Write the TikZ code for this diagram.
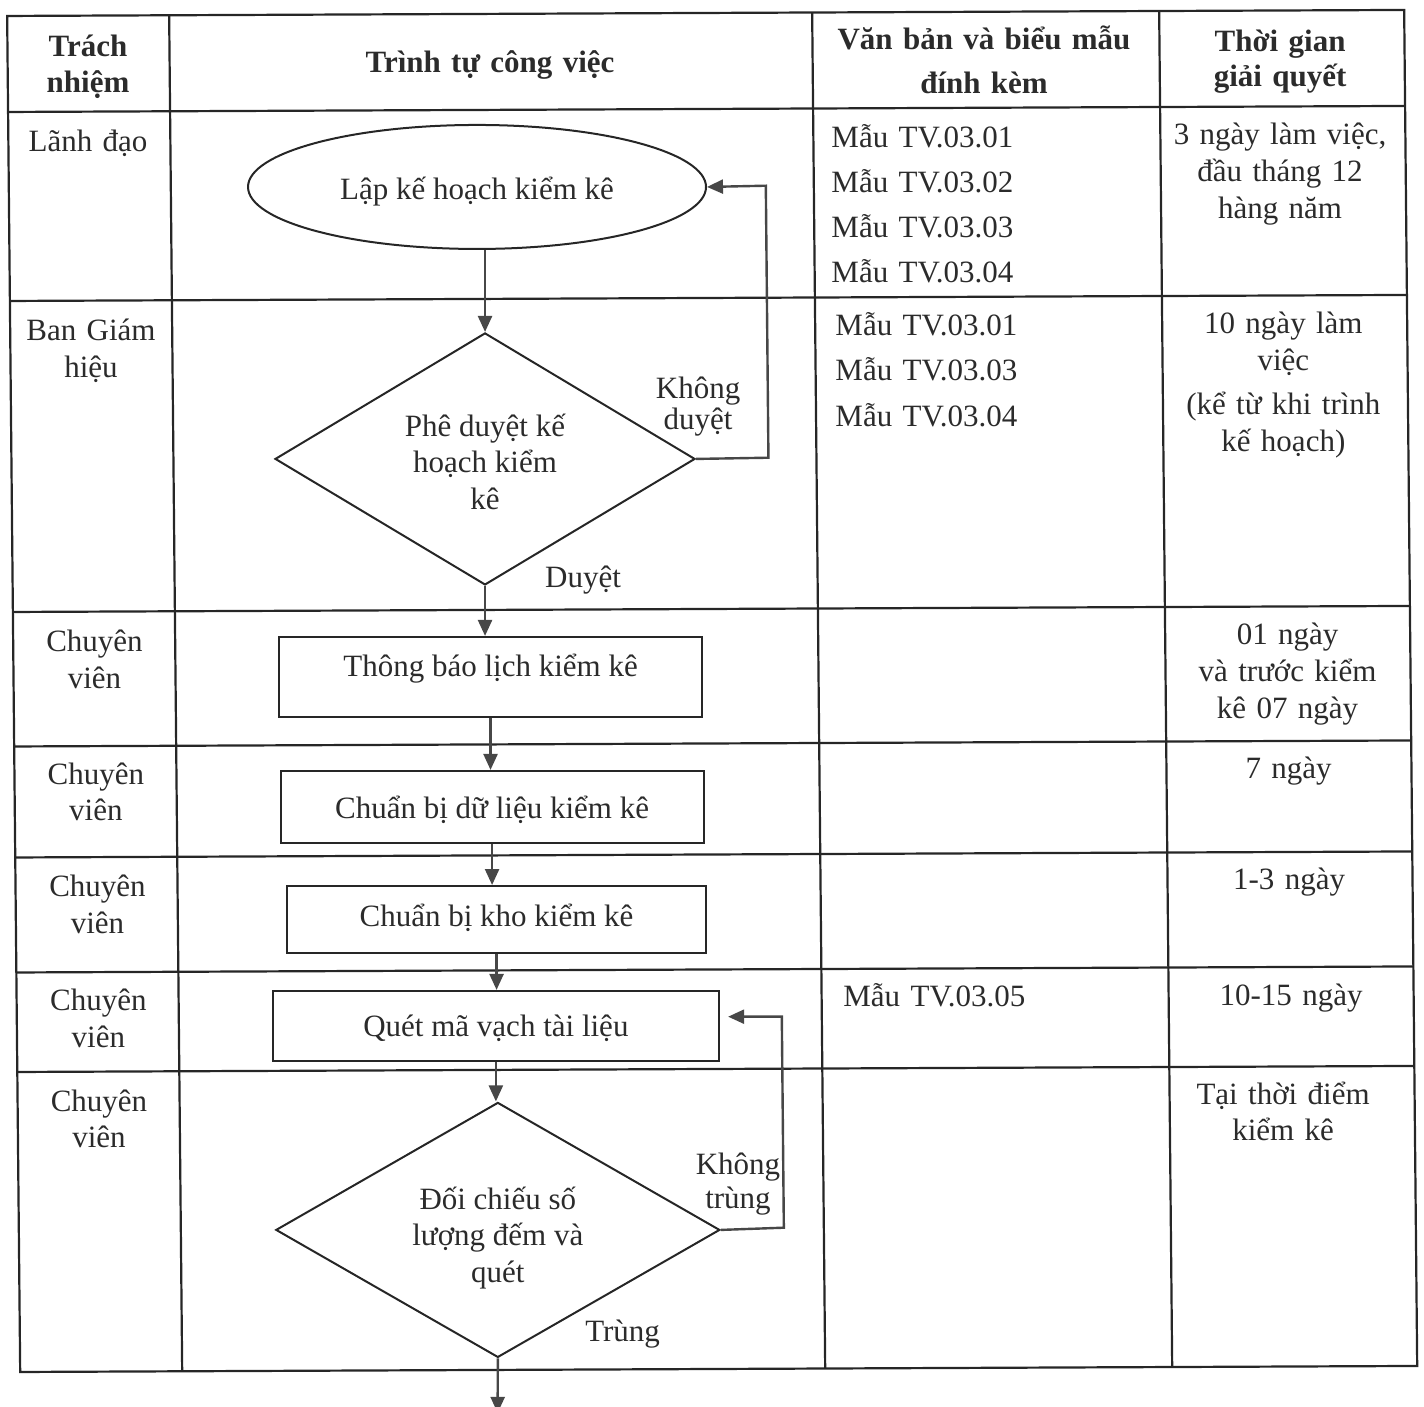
\documentclass[tikz,border=0pt]{standalone}
\usepackage{fontspec}
\setmainfont{Liberation Serif}
\usetikzlibrary{shapes.geometric,arrows.meta}
\definecolor{ink}{HTML}{2B2B2B}
\definecolor{rulec}{HTML}{262626}
\definecolor{arrowc}{HTML}{474747}
\begin{document}
\begin{tikzpicture}[
  x={(0.5pt,0.00215pt)}, y={(0.0048pt,-0.5pt)},
  tline/.style={draw=rulec, line width=1.1pt},
  lead/.style={font=\fontsize{15.5}{#1}\selectfont},
  hd/.style={font=\fontsize{15.5}{#1}\selectfont\bfseries},
  txt/.style={inner sep=0pt, text=ink, lead=18.3pt},
  cellc/.style={txt, anchor=base, align=center, text width=#1},
  celll/.style={txt, anchor=base west, align=left, text width=#1},
  shp/.style={txt, draw=rulec, line width=1pt},
  procbox/.style={shp, rectangle, minimum width=#1},
  decis/.style={shp, diamond, align=center},
  arr/.style={draw=arrowc, line width=1.2pt, -{Triangle[length=8pt,width=7pt,fill=arrowc]}}
]
\useasboundingbox (0pt,0pt) rectangle (712pt,-703.5pt);

% ---------- table grid ----------
\draw[tline] (7,16) -- (1404,16) -- (1404,1372) -- (7,1372) -- cycle;
\foreach \v in {112,301,612,746.5,857.5,972.5,1072}
  \draw[tline] (7,\v) -- (1404,\v);
\foreach \u in {169,812,1159}
  \draw[tline] (\u,16) -- (\u,1372);

% ---------- header ----------
\node[cellc=78pt, hd=18pt] (hA) at (87.5,57.1) {Trách\\nhiệm};
\node[cellc=300pt, hd=18pt] (hB) at (489.3,75.1) {Trình tự công việc};
\node[cellc=170pt, hd=22pt] (hC) at (983.5,53.5) {Văn bản và biểu mẫu\\đính kèm};
\node[cellc=118pt, hd=17.2pt] (hD) at (1279.5,57.2) {Thời gian\\giải quyết};

% ---------- column 1 ----------
\node[cellc=78pt, lead=18.5pt] (r1a) at (86.5,152.1) {Lãnh đạo};
\node[cellc=78pt, lead=18.6pt] (r2a) at (87.7,340.4) {Ban Giám\\hiệu};
\node[cellc=78pt, lead=18.3pt] (r3a) at (88.2,652.1) {Chuyên\\viên};
\node[cellc=78pt, lead=18.3pt] (r4a) at (88.3,784.7) {Chuyên\\viên};
\node[cellc=78pt, lead=18.3pt] (r5a) at (88.9,897.1) {Chuyên\\viên};
\node[cellc=78pt, lead=18.3pt] (r6a) at (88.6,1011.1) {Chuyên\\viên};
\node[cellc=78pt, lead=18.3pt] (r7a) at (88.3,1111.4) {Chuyên\\viên};

% ---------- column 3 ----------
\node[celll=160pt, lead=22.4pt] (r1m) at (829.6,151.3) {Mẫu TV.03.01\\Mẫu TV.03.02\\Mẫu TV.03.03\\Mẫu TV.03.04};
\node[celll=160pt, lead=22.6pt] (r2m) at (831.8,339.3) {Mẫu TV.03.01\\Mẫu TV.03.03\\Mẫu TV.03.04};
\node[celll=160pt, lead=18pt] (r6m) at (833.3,1010.3) {Mẫu TV.03.05};

% ---------- column 4 ----------
\node[cellc=118pt, lead=18.3pt] (r1t) at (1278.6,150.5) {3 ngày làm việc,\\đầu tháng 12\\hàng năm};
\node[cellc=118pt, lead=18.5pt] (r2t) at (1280.1,338.8) {10 ngày làm\\việc\\[3.5pt](kể từ khi trình\\kế hoạch)};
\node[cellc=118pt, lead=18.3pt] (r3t) at (1281.3,650.5) {01 ngày\\và trước kiểm\\kê 07 ngày};
\node[cellc=118pt, lead=18.3pt] (r4t) at (1281,783.8) {7 ngày};
\node[cellc=118pt, lead=18.3pt] (r5t) at (1280.5,895.5) {1-3 ngày};
\node[cellc=118pt, lead=18.3pt] (r6t) at (1281.4,1010.6) {10-15 ngày};
\node[cellc=118pt, lead=18.3pt] (r7t) at (1272.4,1109.5) {Tại thời điểm\\kiểm kê};

% ---------- flowchart ----------
\node[shp, ellipse, minimum width=229pt, minimum height=62pt, text height=14pt, text depth=1pt] (e) at (475.2,189) {Lập kế hoạch kiểm kê};
\node[decis, aspect=1.67, minimum width=210pt, minimum height=126pt] (d1) at (480.6,461) {\rule{0pt}{14pt}Phê duyệt kế\\hoạch kiểm\\kê};
\node[procbox=211.5pt, minimum height=40pt, text height=8pt, text depth=8pt] (b1) at (484,679) {Thông báo lịch kiểm kê};
\node[procbox=211.5pt, minimum height=36pt, text height=13pt, text depth=1.7pt] (b2) at (484.3,809) {Chuẩn bị dữ liệu kiểm kê};
\node[procbox=209.5pt, minimum height=33.5pt, text height=10pt, text depth=3.5pt] (b3) at (487.7,921.6) {Chuẩn bị kho kiểm kê};
\node[procbox=223.25pt, minimum height=35pt, text height=12.7pt, text depth=2pt] (b4) at (486,1028) {Quét mã vạch tài liệu};
\node[decis, aspect=1.74, minimum width=222pt, minimum height=127.5pt] (d2) at (486,1232) {\rule{0pt}{19pt}Đối chiếu số\\lượng đếm và\\quét};

% labels
\node[cellc=60pt, lead=15.5pt] (l1) at (694.2,401.3) {Không\\duyệt};
\node[cellc=60pt] (l2) at (577.4,590.2) {Duyệt};
\node[cellc=60pt, lead=17.2pt] (l3) at (726.7,1177.2) {Không\\trùng};
\node[cellc=60pt] (l4) at (609.7,1344.4) {Trùng};

% bend points
\coordinate (k1a) at (764,461);
\coordinate (k1b) at (764,189);
\coordinate (k2a) at (772,1231);
\coordinate (k2b) at (772,1020);
\coordinate (fin) at (484,1415);

% connectors
\draw[arr] (e.south -| d1.north) -- (d1.north);
\draw[arr] (d1.east) -- (k1a) -- (k1b) -- (e.east);
\draw[arr] (d1.south) -- (d1.south |- b1.north);
\draw[arr] (b1.south) -- (b1.south |- b2.north);
\draw[arr] (b2.south) -- (b2.south |- b3.north);
\draw[arr] (b3.south) -- (b3.south |- b4.north);
\draw[arr] (b4.south) -- (b4.south |- d2.north);
\draw[arr, shorten >=4pt] (d2.east) -- (k2a) -- (k2b) -- (k2b -| b4.east);
\draw[arr] (d2.south) -- (fin);
\end{tikzpicture}
\end{document}
